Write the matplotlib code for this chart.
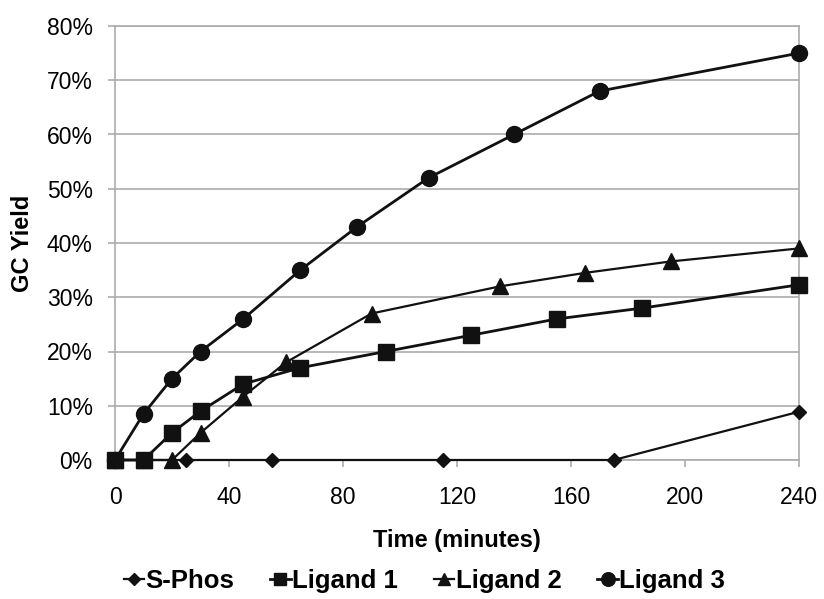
import matplotlib
matplotlib.use("Agg")
import matplotlib.pyplot as plt
from matplotlib.ticker import FuncFormatter

plt.rcParams['font.family'] = ['Liberation Sans', 'DejaVu Sans']

# Data (time in minutes, GC yield in %)
sphos_t = [0, 25, 55, 115, 175, 240]
sphos_y = [0, 0, 0, 0, 0, 8.9]

lig1_t = [0, 10, 20, 30, 45, 65, 95, 125, 155, 185, 240]
lig1_y = [0, 0, 5, 9, 14, 17, 20, 23, 26, 28, 32.3]

lig2_t = [0, 10, 20, 30, 45, 60, 90, 135, 165, 195, 240]
lig2_y = [0, 0, 0, 5, 11.7, 18, 27, 32, 34.5, 36.6, 39]

lig3_t = [0, 10, 20, 30, 45, 65, 85, 110, 140, 170, 240]
lig3_y = [0, 8.5, 15, 20, 26, 35, 43, 52, 60, 68, 75]

x_ticks = [0, 40, 80, 120, 160, 200, 240]
y_ticks = [0, 10, 20, 30, 40, 50, 60, 70, 80]

fig = plt.figure(figsize=(8.24, 5.99), dpi=100)
ax = fig.add_axes([115/824, 1-460/599, (799-115)/824, (460-26)/599])

ink = '#111111'
ax.plot(sphos_t, sphos_y, color=ink, lw=1.6, marker='D', ms=7, label='S-Phos', clip_on=False, zorder=3)
ax.plot(lig1_t, lig1_y, color=ink, lw=2.0, marker='s', ms=11, label='Ligand 1', clip_on=False, zorder=3)
ax.plot(lig2_t, lig2_y, color=ink, lw=1.6, marker='^', ms=11, label='Ligand 2', clip_on=False, zorder=3)
ax.plot(lig3_t, lig3_y, color=ink, lw=2.0, marker='o', ms=11.5, label='Ligand 3', clip_on=False, zorder=3)

ax.set_xlim(0, 240)
ax.set_ylim(0, 80)
ax.set_xticks(x_ticks)
ax.set_yticks(y_ticks)
ax.yaxis.set_major_formatter(FuncFormatter(lambda v, p: f"{int(v)}%"))

grid_c = '#ababab'
ax.yaxis.grid(True, color=grid_c, lw=1.2)
ax.set_axisbelow(True)
for s in ax.spines.values():
    s.set_color(grid_c)
    s.set_linewidth(1.2)

ax.tick_params(axis='both', direction='out', length=5, width=1.2, color=grid_c,
               labelsize=16.5, labelcolor='black')
ax.tick_params(axis='x', pad=14)
ax.tick_params(axis='y', pad=11)

ax.set_xlabel('Time (minutes)', fontsize=17, fontweight='bold', labelpad=14)
ax.set_ylabel('GC Yield', fontsize=17, fontweight='bold')
ax.yaxis.set_label_coords(-0.118, 0.5)

leg = fig.legend(loc='center', bbox_to_anchor=(0.515, 0.03), ncol=4, frameon=False,
                 prop={'size': 18.5, 'weight': 'bold'}, handlelength=0.8,
                 handletextpad=0.05, columnspacing=1.4, markerscale=0.85)

fig.savefig('out.png', dpi=100)
